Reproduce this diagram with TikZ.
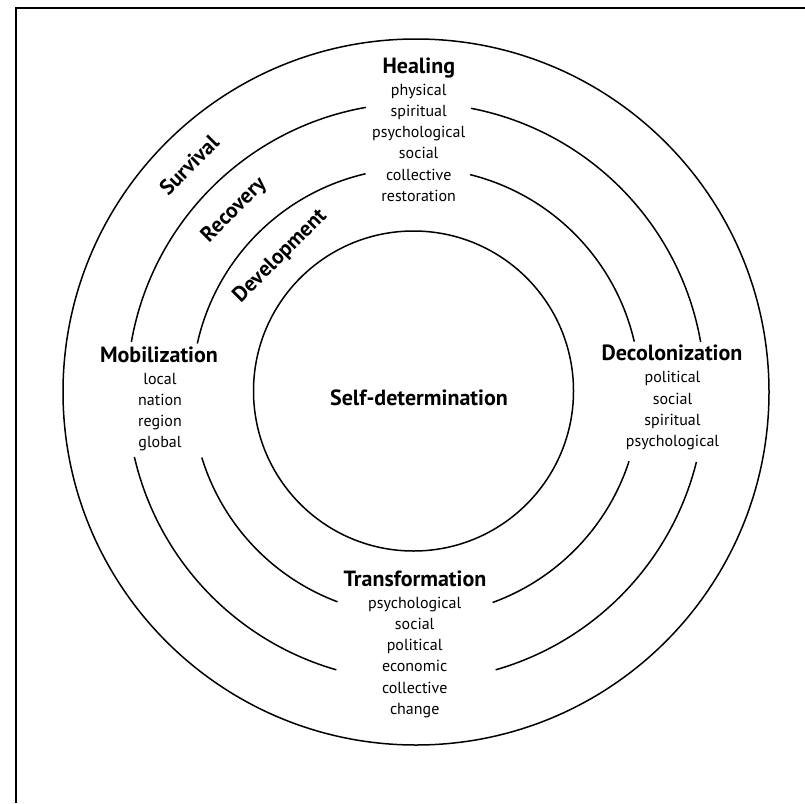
\documentclass[tikz,border=0pt]{standalone}
\usepackage{fontspec}
\setmainfont{PT Sans}
\begin{document}
\begin{tikzpicture}[x=1pt,y=-1pt,
  ring/.style={line width=1.5pt},
  frame/.style={line width=2pt},
  head/.style={font=\fontsize{22}{24}\selectfont\bfseries, inner sep=0pt, anchor=base},
  item/.style={font=\fontsize{16}{20}\selectfont, inner sep=0pt, anchor=base},
  arclabel/.style={font=\fontsize{21.5}{24}\selectfont\bfseries, inner sep=0pt}]
\useasboundingbox (0,0) rectangle (805,803);
\coordinate (C) at (416,392);
\coordinate (I) at (413.5,391);
% frame
\coordinate (fbl) at (16,803);
\coordinate (ftl) at (16,8);
\coordinate (ftr) at (805,8);
\draw[frame] (fbl) -- (ftl) -- (ftr);
% rings
\draw[ring] (C) circle[radius=353pt];
\draw[ring] (I) circle[radius=160pt];
\begin{scope}[shift={(C)}]
  \draw[ring] (10:289pt) arc[start angle=10, end angle=79, radius=289pt];
  \draw[ring] (100:289pt) arc[start angle=100, end angle=170, radius=289pt];
  \draw[ring] (193:289pt) arc[start angle=193, end angle=254, radius=289pt];
  \draw[ring] (286:289pt) arc[start angle=286, end angle=346, radius=289pt];
  \draw[ring] (13:224pt) arc[start angle=13, end angle=76, radius=224pt];
  \draw[ring] (103:224pt) arc[start angle=103, end angle=167.5, radius=224pt];
  \draw[ring] (197:224pt) arc[start angle=197, end angle=249.5, radius=224pt];
  \draw[ring] (290:224pt) arc[start angle=290, end angle=342, radius=224pt];
\end{scope}
% ring labels
\node[arclabel, rotate=45] (surv) at ([shift={(135:321pt)}]C) {Survival};
\node[arclabel, rotate=45] (reco) at ([shift={(135:257pt)}]C) {Recovery};
\node[arclabel, rotate=45] (deve) at ([shift={(135:192pt)}]C) {Development};
% centre
\node[head] (self) at (419,405.5) {Self-determination};
% Healing
\node[head] (heal) at (418.8,73.3) {Healing};
\foreach \t [count=\i from 0] in {physical,spiritual,psychological,social,collective,restoration}
  \node[item] (heal-\i) at (418.7,95+21.3*\i) {\t};
% Mobilization
\node[head] (mobi) at (159,362.7) {Mobilization};
\foreach \t [count=\i from 0] in {local,nation,region,global}
  \node[item] (mobi-\i) at (160,384+21.3*\i) {\t};
% Decolonization
\node[head] (deco) at (672,360.7) {Decolonization};
\foreach \t [count=\i from 0] in {political,social,spiritual,psychological}
  \node[item] (deco-\i) at (672.5,382.7+21.3*\i) {\t};
% Transformation
\node[head] (tran) at (415,586) {Transformation};
\foreach \t [count=\i from 0] in {psychological,social,political,economic,collective,change}
  \node[item] (tran-\i) at (414.7,608.3+21.2*\i) {\t};
\end{tikzpicture}
\end{document}
